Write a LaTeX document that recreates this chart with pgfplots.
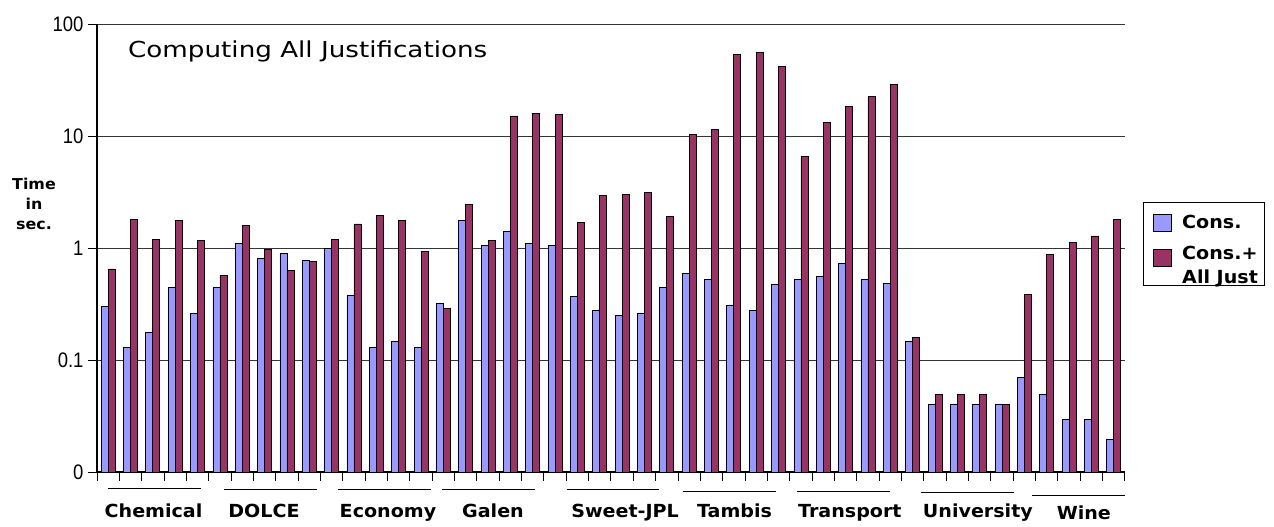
\documentclass[border=0pt]{standalone}
\usepackage{pgfplots}
\usepackage{pgfplotstable}
\pgfplotsset{compat=1.18}
\usepackage{fontspec}
\setmainfont{DejaVu Sans}
\newfontfamily\titlefont[FakeStretch=1.19]{DejaVu Sans}
\newfontfamily\labfont[FakeStretch=1.06]{DejaVu Sans}
\newfontfamily\numfont[FakeStretch=0.88]{Liberation Sans}
\definecolor{consblue}{RGB}{153,153,255}
\definecolor{consred}{RGB}{153,51,102}

\pgfplotstableread{
x  cons    all
0  0.30    0.65
1  0.13    1.79
2  0.177   1.20
3  0.445   1.75
4  0.26    1.17
5  0.445   0.57
6  1.09    1.59
7  0.80    0.98
8  0.90    0.63
9  0.78    0.755
10 1.00    1.20
11 0.38    1.64
12 0.13    1.96
13 0.147   1.75
14 0.13    0.93
15 0.32    0.29
16 1.75    2.44
17 1.06    1.16
18 1.41    15.1
19 1.09    16.0
20 1.06    15.6
21 0.37    1.69
22 0.28    2.95
23 0.25    3.03
24 0.263   3.14
25 0.445   1.90
26 0.59    10.4
27 0.52    11.4
28 0.31    53.6
29 0.28    55.5
30 0.477   41.9
31 0.52    6.58
32 0.558   13.3
33 0.734   18.3
34 0.52    22.6
35 0.487   28.9
36 0.147   0.160
37 0.040   0.0497
38 0.040   0.0497
39 0.040   0.0497
40 0.040   0.040
41 0.070   0.383
42 0.0497  0.878
43 0.0293  1.13
44 0.0293  1.28
45 0.0197  1.79
}\data

\begin{document}
\begin{tikzpicture}[x=1pt,y=1pt]
\path[use as bounding box] (0,0) rectangle (1274,527);
\begin{axis}[
  at={(97pt,55pt)}, anchor=south west,
  width=1028pt, height=448pt, scale only axis,
  ymode=log, log origin=infty, ymin=0.01, ymax=100,
  xmin=-0.5, xmax=45.5,
  ybar, bar width=7pt,
  axis x line*=bottom, axis y line*=left,
  axis line style={line width=1.2pt, black},
  ytick={0.01,0.1,1,10,100},
  yticklabels={{\numfont 0},{\numfont 0.1},{\numfont 1},{\numfont 10},{\numfont 100}},
  yminorticks=false, xminorticks=false,
  ymajorgrids, grid style={draw=black!80, line width=1pt},
  xtick={-0.5,0.5,...,45.5}, xticklabels={},
  tick align=outside, xtick align=outside, ytick align=outside,
  major tick length=9pt,
  tick style={black, line width=1pt},
  /pgf/number format/assume math mode=true,
  yticklabel style={font=\numfont\fontsize{21}{21}\selectfont, xshift=-1pt},
  legend style={at={(1.0175,0.6027)}, anchor=north west, draw=black,
    line width=1pt, fill=white,
    font=\labfont\bfseries\fontsize{18}{23}\selectfont,
    inner xsep=5pt, inner ysep=11pt, row sep=9pt, cells={anchor=west}},
  legend image code/.code={\draw[#1, line width=1pt] (5pt,-8.5pt) rectangle (23pt,8.5pt);
    \path (0pt,0pt) (31pt,0pt);},
]
\addplot[fill=consblue, draw=black, line width=0.8pt, bar shift=-3.5pt] table[x=x,y=cons]{\data};
\addlegendentry{Cons.}
\addplot[fill=consred, draw=black, line width=0.8pt, bar shift=3.5pt] table[x=x,y=all]{\data};
\addlegendentry{\begin{tabular}{@{}l@{}}Cons.+\\[1pt]All Just\end{tabular}\hspace{4pt}}

\coordinate (a1) at (axis cs:0,0.01);     \coordinate (b1) at (axis cs:4.15,0.01);
\coordinate (a2) at (axis cs:5.18,0.01);  \coordinate (b2) at (axis cs:9.34,0.01);
\coordinate (a3) at (axis cs:10.28,0.01); \coordinate (b3) at (axis cs:14.45,0.01);
\coordinate (a4) at (axis cs:14.94,0.01); \coordinate (b4) at (axis cs:19.10,0.01);
\coordinate (a5) at (axis cs:20.53,0.01); \coordinate (b5) at (axis cs:24.65,0.01);
\coordinate (a6) at (axis cs:25.72,0.01); \coordinate (b6) at (axis cs:29.88,0.01);
\coordinate (a7) at (axis cs:30.82,0.01); \coordinate (b7) at (axis cs:34.98,0.01);
\coordinate (a8) at (axis cs:36.37,0.01); \coordinate (b8) at (axis cs:40.53,0.01);
\coordinate (a9) at (axis cs:41.34,0.01); \coordinate (b9) at (axis cs:45.5,0.01);
\coordinate (l1) at (axis cs:2.03,0.01);
\coordinate (l2) at (axis cs:6.97,0.01);
\coordinate (l3) at (axis cs:12.52,0.01);
\coordinate (l4) at (axis cs:17.22,0.01);
\coordinate (l5) at (axis cs:23.13,0.01);
\coordinate (l6) at (axis cs:28.03,0.01);
\coordinate (l7) at (axis cs:33.19,0.01);
\coordinate (l8) at (axis cs:38.92,0.01);
\coordinate (l9) at (axis cs:43.66,0.01);
\end{axis}

\draw[line width=1pt] ([yshift=-17pt]a1) -- ([yshift=-17pt]b1);
\draw[line width=1pt] ([yshift=-18pt]a2) -- ([yshift=-18pt]b2);
\draw[line width=1pt] ([yshift=-18pt]a3) -- ([yshift=-18pt]b3);
\draw[line width=1pt] ([yshift=-18pt]a4) -- ([yshift=-18pt]b4);
\draw[line width=1pt] ([yshift=-18pt]a5) -- ([yshift=-18pt]b5);
\draw[line width=1pt] ([yshift=-19.5pt]a6) -- ([yshift=-19.5pt]b6);
\draw[line width=1pt] ([yshift=-20pt]a7) -- ([yshift=-20pt]b7);
\draw[line width=1pt] ([yshift=-21pt]a8) -- ([yshift=-21pt]b8);
\draw[line width=1pt] ([yshift=-23.5pt]a9) -- ([yshift=-23.5pt]b9);

\tikzset{grp/.style={anchor=base, inner sep=0pt, font=\labfont\bfseries\fontsize{18}{20}\selectfont}}
\node[grp] at ([yshift=-46pt]l1) {Chemical};
\node[grp] at ([yshift=-46pt]l2) {DOLCE};
\node[grp] at ([yshift=-46pt]l3) {Economy};
\node[grp] at ([yshift=-46pt]l4) {Galen};
\node[grp] at ([yshift=-46pt]l5) {Sweet-JPL};
\node[grp] at ([yshift=-46pt]l6) {Tambis};
\node[grp] at ([yshift=-46pt]l7) {Transport};
\node[grp] at ([yshift=-46pt]l8) {University};
\node[grp] at ([yshift=-48pt]l9) {Wine};

\node[anchor=base west, inner sep=0pt, font=\titlefont\fontsize{22}{26}\selectfont] at (128,469) {Computing All Justifications};
\node[align=center, inner sep=0pt, font=\labfont\bfseries\fontsize{15}{20}\selectfont] at (34,323) {Time\\in\\sec.};
\end{tikzpicture}
\end{document}
